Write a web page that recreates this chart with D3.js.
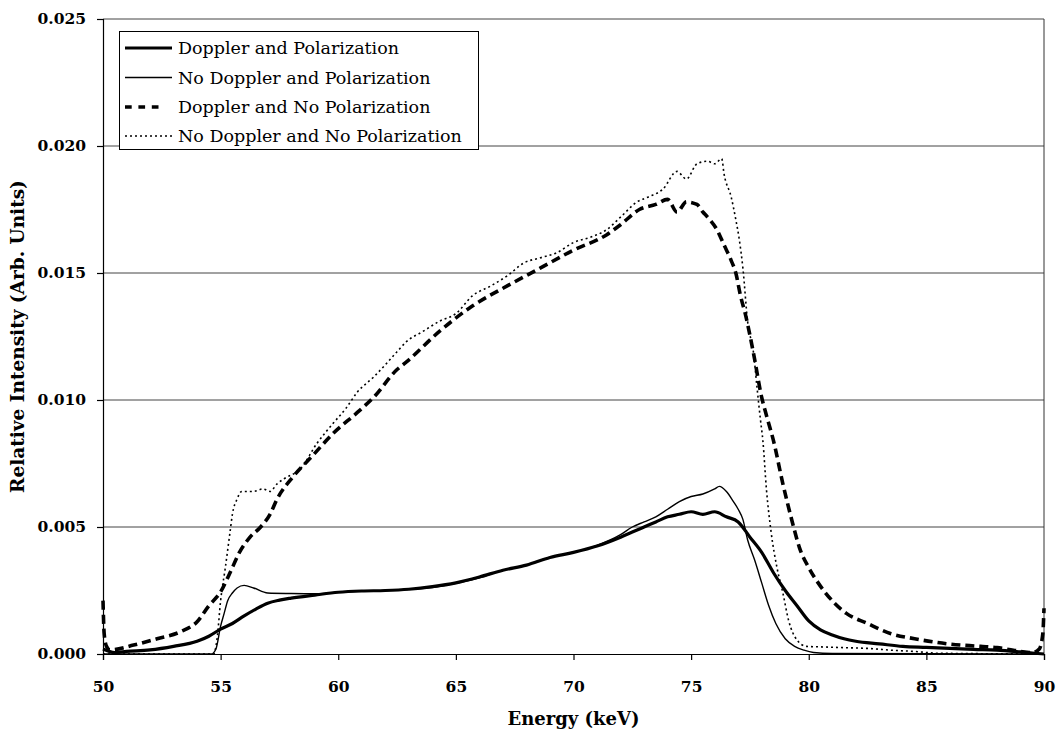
<!DOCTYPE html>
<html>
<head>
<meta charset="utf-8">
<script src="https://cdn.jsdelivr.net/npm/d3@7"></script>
<style>
  html, body { margin: 0; padding: 0; background: #fff; }
  svg text { font-family: "DejaVu Serif", "Liberation Serif", serif; fill: #000; }
</style>
</head>
<body>
<svg id="chart" width="1060" height="736"></svg>
<script>
// ---- data ----
const xTicks = [50, 55, 60, 65, 70, 75, 80, 85, 90];
const yTicks = [0.000, 0.005, 0.010, 0.015, 0.020, 0.025];
const seriesNames = [
  "Doppler and Polarization",
  "No Doppler and Polarization",
  "Doppler and No Polarization",
  "No Doppler and No Polarization"
];

// Doppler and Polarization (thick solid)
const energyA = [50, 50.5, 51, 52, 53, 54, 54.5, 55, 55.5, 56, 56.5, 57, 57.5, 58, 59, 60, 61, 62, 63, 64, 65, 66, 67, 68, 69, 70, 71, 72, 72.5, 73, 73.5, 74, 74.5, 75, 75.5, 76, 76.5, 77, 77.5, 78, 78.5, 79, 79.5, 80, 80.5, 81, 81.5, 82, 83, 84, 85, 86, 87, 88, 89, 89.5, 90];
const valuesA = [0.0002, 0.00006, 0.0001, 0.00016, 0.0003, 0.0005, 0.0007, 0.00098, 0.0012, 0.0015, 0.00177, 0.0020, 0.00212, 0.0022, 0.00232, 0.00243, 0.00248, 0.0025, 0.00255, 0.00265, 0.0028, 0.00303, 0.0033, 0.0035, 0.0038, 0.0040, 0.00425, 0.0046, 0.0048, 0.0050, 0.0052, 0.0054, 0.0055, 0.0056, 0.0055, 0.0056, 0.0054, 0.0052, 0.0046, 0.0040, 0.0032, 0.0025, 0.0019, 0.0013, 0.00095, 0.00075, 0.0006, 0.0005, 0.0004, 0.0003, 0.00026, 0.00022, 0.00018, 0.00015, 0.00008, 0.00004, 0.0];

// No Doppler and Polarization (thin solid)
const energyB = [50, 54.6, 54.8, 55, 55.15, 55.3, 55.5, 55.7, 56, 56.4, 57, 58, 59, 60, 61, 62, 63, 64, 65, 66, 67, 68, 69, 70, 71, 72, 72.5, 73, 73.5, 74, 74.5, 75, 75.5, 76, 76.2, 76.5, 76.8, 77, 77.2, 77.4, 77.7, 78, 78.3, 78.6, 79, 79.4, 79.8, 80.2, 81, 90];
const valuesB = [0, 0, 0.0002, 0.0011, 0.0016, 0.0021, 0.0024, 0.0026, 0.0027, 0.0026, 0.0024, 0.00238, 0.00237, 0.00243, 0.00248, 0.0025, 0.00255, 0.00262, 0.00278, 0.003, 0.0033, 0.0035, 0.0038, 0.0040, 0.00428, 0.0047, 0.0050, 0.0052, 0.0054, 0.0057, 0.0060, 0.0062, 0.0063, 0.0065, 0.0066, 0.0064, 0.0060, 0.0057, 0.0053, 0.0045, 0.0037, 0.0028, 0.0019, 0.0012, 0.0006, 0.0003, 0.00015, 0.00006, 0.00002, 0];

// Doppler and No Polarization (thick dashed)
const energyC = [50, 50.05, 50.15, 50.3, 51.3, 52.3, 53.3, 54, 54.5, 55, 55.4, 55.8, 56.25, 56.7, 57.1, 57.4, 58.1, 58.9, 59.8, 60.8, 61.5, 62.5, 62.9, 64.3, 65.7, 67.2, 68.6, 70, 71.4, 72, 72.8, 73.5, 74, 74.4, 74.8, 75.25, 75.5, 75.7, 76.1, 76.4, 76.7, 76.9, 77.1, 77.3, 77.66, 78.0, 78.2, 78.5, 78.9, 79.3, 79.6, 80, 80.4, 81.1, 81.6, 82.5, 83.5, 84.5, 85.9, 87.3, 88, 88.7, 89.5, 89.8, 89.95, 90];
const valuesC = [0.0021, 0.0008, 0.0003, 0.00016, 0.00035, 0.0006, 0.00088, 0.00127, 0.0019, 0.00245, 0.0032, 0.004, 0.0046, 0.005, 0.0055, 0.0061, 0.0070, 0.0078, 0.0087, 0.0095, 0.0101, 0.0112, 0.0115, 0.0127, 0.0137, 0.0145, 0.0152, 0.0159, 0.0165, 0.0169, 0.0175, 0.0177, 0.0179, 0.0174, 0.0178, 0.0177, 0.0174, 0.0172, 0.0167, 0.0161, 0.0155, 0.0150, 0.0141, 0.0134, 0.0118, 0.0101, 0.0094, 0.0084, 0.0067, 0.0052, 0.0042, 0.0034, 0.0028, 0.002, 0.0016, 0.0012, 0.0008, 0.0006, 0.0004, 0.0003, 0.00025, 0.00015, 0.00005, 0.0002, 0.0008, 0.0018];

// No Doppler and No Polarization (thin dotted)
const energyD = [50, 54.7, 54.85, 55, 55.2, 55.4, 55.5, 55.7, 55.9, 56.4, 56.8, 57.1, 57.4, 57.7, 58.4, 59.1, 59.8, 60.35, 60.8, 61.5, 62.5, 62.9, 63.6, 64.3, 65, 65.7, 66.5, 67.2, 67.9, 68.6, 69.3, 70, 70.7, 71.4, 72, 72.7, 73.2, 73.8, 74.4, 74.8, 75.25, 75.7, 76, 76.3, 76.4, 76.7, 76.9, 77.05, 77.2, 77.4, 77.66, 77.8, 77.95, 78.05, 78.2, 78.4, 78.65, 78.9, 79.15, 79.5, 79.9, 80.5, 81.5, 82.5, 83.5, 84.5, 85.5, 90];
const valuesD = [0, 0, 0.0006, 0.0021, 0.0034, 0.0048, 0.0055, 0.0061, 0.0064, 0.0064, 0.0065, 0.0064, 0.0067, 0.0069, 0.0073, 0.0083, 0.0091, 0.0097, 0.0103, 0.0109, 0.0119, 0.0123, 0.0127, 0.0131, 0.0134, 0.0141, 0.0145, 0.0149, 0.0154, 0.0156, 0.0158, 0.0162, 0.0164, 0.0167, 0.0172, 0.0178, 0.0180, 0.0183, 0.0190, 0.0187, 0.0193, 0.0194, 0.0193, 0.0195, 0.0189, 0.0180, 0.0171, 0.0163, 0.0152, 0.0131, 0.0118, 0.0105, 0.0092, 0.0084, 0.0065, 0.0048, 0.0034, 0.0024, 0.0013, 0.00055, 0.0003, 0.00028, 0.00025, 0.00022, 0.00015, 0.0001, 0.00003, 0];

// ---- drawing ----
const svg = d3.select("#chart");
const mLeft = 103, mRight = 1044, mTop = 19, mBottom = 654;

const x = d3.scaleLinear().domain([50, 90]).range([mLeft, mRight]);
const y = d3.scaleLinear().domain([0, 0.025]).range([mBottom, mTop]);

// gridlines
svg.append("g").selectAll("line").data(yTicks.filter(d => d > 0)).join("line")
  .attr("x1", mLeft).attr("x2", mRight)
  .attr("y1", d => y(d)).attr("y2", d => y(d))
  .attr("stroke", "#444").attr("stroke-width", 1);

// right border
svg.append("line").attr("x1", mRight).attr("x2", mRight).attr("y1", mTop).attr("y2", mBottom)
  .attr("stroke", "#333").attr("stroke-width", 1);

// axes
const xAxis = d3.axisBottom(x).tickValues(xTicks).tickFormat(d3.format("d")).tickSize(6).tickPadding(21);
const yAxis = d3.axisLeft(y).tickValues(yTicks).tickFormat(d3.format(".3f")).tickSize(6).tickPadding(11);

const gx = svg.append("g").attr("transform", `translate(0,${mBottom})`).call(xAxis);
const gy = svg.append("g").attr("transform", `translate(${mLeft},0)`).call(yAxis);
[gx, gy].forEach(g => {
  g.select(".domain").attr("stroke", "#000").attr("stroke-width", 1.2);
  g.selectAll(".tick line").attr("stroke", "#000").attr("stroke-width", 1.2);
  g.selectAll(".tick text").attr("font-family", "DejaVu Serif").attr("font-weight", "bold")
    .attr("font-size", 15.5).attr("fill", "#000");
});

// series
const styles = [
  { w: 3.2, dash: null },
  { w: 1.4, dash: null },
  { w: 3.6, dash: "9,5" },
  { w: 1.6, dash: "2,3" }
];
const seriesData = [
  d3.zip(energyA, valuesA),
  d3.zip(energyB, valuesB),
  d3.zip(energyC, valuesC),
  d3.zip(energyD, valuesD)
];
const line = d3.line().x(d => x(d[0])).y(d => y(d[1])).curve(d3.curveMonotoneX);

const plot = svg.append("g");
[1, 0, 3, 2].forEach(i => {
  plot.append("path").datum(seriesData[i])
    .attr("fill", "none").attr("stroke", "#000")
    .attr("stroke-width", styles[i].w)
    .attr("stroke-dasharray", styles[i].dash)
    .attr("stroke-linejoin", "round")
    .attr("d", line);
});

// axis titles
svg.append("text").attr("x", (mLeft + mRight) / 2).attr("y", 725)
  .attr("text-anchor", "middle").attr("font-weight", "bold").attr("font-size", 18)
  .text("Energy (keV)");
svg.append("text").attr("transform", `translate(24,${(mTop + mBottom) / 2}) rotate(-90)`)
  .attr("text-anchor", "middle").attr("font-weight", "bold").attr("font-size", 18.5)
  .text("Relative Intensity (Arb. Units)");

// legend
const lg = svg.append("g");
lg.append("rect").attr("x", 119.5).attr("y", 31.5).attr("width", 359).attr("height", 118)
  .attr("fill", "#fff").attr("stroke", "#000").attr("stroke-width", 1);
const rowY = [48, 77.5, 107, 136];
seriesNames.forEach((name, i) => {
  lg.append("line").attr("x1", 125).attr("x2", i === 2 ? 159 : 172).attr("y1", rowY[i]).attr("y2", rowY[i])
    .attr("stroke", "#000").attr("stroke-width", styles[i].w)
    .attr("stroke-dasharray", i === 2 ? "6.7,6.7" : styles[i].dash);
  lg.append("text").attr("x", 178).attr("y", rowY[i]).attr("dy", "0.35em")
    .attr("font-size", 17.5).text(name);
});
</script>
</body>
</html>
